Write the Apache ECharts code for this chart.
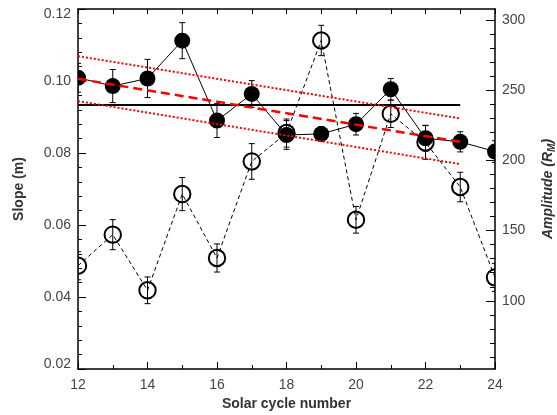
<!DOCTYPE html>
<html>
<head>
<meta charset="utf-8">
<script src="https://cdn.jsdelivr.net/npm/echarts@6/dist/echarts.min.js"></script>
<style>
  html, body { margin: 0; padding: 0; background: #fff; }
  #chart { width: 557px; height: 415px; }
</style>
</head>
<body>
<div id="chart"></div>
<script>
// solar cycles 12..24
var cycles = [12, 13, 14, 15, 16, 17, 18, 19, 20, 21, 22, 23, 24];
// slope m (filled circles, left axis)
var slope = [0.1009, 0.0986, 0.1007, 0.1112, 0.0890, 0.0964, 0.0850, 0.0853, 0.0880, 0.0977, 0.0841, 0.0831, 0.0804];
var slopeErr = [0.0040, 0.0046, 0.0053, 0.0050, 0.0047, 0.0037, 0.0040, 0.0020, 0.0030, 0.0030, 0.0036, 0.0028, 0.0030];
// amplitude (open circles, right axis)
var amplitude = [125.0, 147.1, 107.5, 176.0, 130.5, 199.2, 219.4, 285.3, 157.7, 233.1, 212.7, 181.0, 116.7];
var ampErr = [10.0, 10.7, 9.5, 11.8, 10.0, 12.7, 10.0, 10.8, 9.5, 9.7, 12.0, 10.5, 10.0];
// fit lines over cycles 12..23
var fitX = [12, 23];
var meanSlope = [0.0933, 0.0933];
var trendSlope = [0.1006, 0.0831];
var upperBand = [0.1069, 0.0896];
var lowerBand = [0.0944, 0.0769];
// tick labels
var ampTicks = [100, 150, 200, 250, 300];
var ampMinor = [60, 70, 80, 90, 110, 120, 130, 140, 160, 170, 180, 190, 210, 220, 230, 240, 260, 270, 280, 290];

var FONT = '"Liberation Sans", Arial, Helvetica, sans-serif';

function zip(xs, ys, es) {
  return xs.map(function (x, i) { return es ? [x, ys[i], es[i]] : [x, ys[i]]; });
}

// circle marker + error bar
function markerItem(filled) {
  return function (params, api) {
    var x = api.value(0), y = api.value(1), e = api.value(2);
    var c = api.coord([x, y]);
    var t = api.coord([x, y + e]);
    var b = api.coord([x, y - e]);
    var cap = 3;
    var bar = { stroke: '#000', lineWidth: 1 };
    var circle = filled
      ? { type: 'circle', shape: { cx: c[0], cy: c[1], r: 8 }, style: { fill: '#000' } }
      : { type: 'circle', shape: { cx: c[0], cy: c[1], r: 8.2 }, style: { fill: 'none', stroke: '#000', lineWidth: 2 } };
    return {
      type: 'group',
      children: [
        circle,
        { type: 'line', shape: { x1: t[0], y1: t[1], x2: b[0], y2: b[1] }, style: bar },
        { type: 'line', shape: { x1: t[0] - cap, y1: t[1], x2: t[0] + cap, y2: t[1] }, style: bar },
        { type: 'line', shape: { x1: b[0] - cap, y1: b[1], x2: b[0] + cap, y2: b[1] }, style: bar }
      ]
    };
  };
}

var axisLine = { show: true, lineStyle: { color: '#000', width: 1.5 } };
var labelStyle = { fontSize: 14, color: '#444', fontFamily: FONT };
var nameStyle = { fontSize: 14, fontWeight: 'bold', color: '#333', fontFamily: FONT };

// end labels of the slope axis are pulled inside the frame
function slopeLabel(v) {
  var s = v.toFixed(2);
  if (Math.abs(v - 0.02) < 1e-9) return '{lo|' + s + '}';
  if (Math.abs(v - 0.12) < 1e-9) return '{hi|' + s + '}';
  return s;
}

var option = {
  backgroundColor: '#fff',
  animation: false,
  grid: { left: 78, right: 62, top: 9, bottom: 46, containLabel: false, outerBoundsMode: 'none' },
  xAxis: [
    {
      type: 'value', position: 'bottom', min: 12, max: 24, interval: 2,
      axisLine: axisLine,
      axisTick: { inside: true, length: 7, lineStyle: { color: '#000' } },
      minorTick: { show: true, splitNumber: 2, length: 4, lineStyle: { color: '#000' } },
      axisLabel: Object.assign({ margin: 9 }, labelStyle),
      splitLine: { show: false },
      name: 'Solar cycle number', nameLocation: 'middle', nameGap: 26,
      nameTextStyle: nameStyle
    },
    {
      type: 'value', position: 'top', min: 12, max: 24, interval: 1,
      axisLine: axisLine,
      axisTick: { inside: true, length: 5, lineStyle: { color: '#000' } },
      axisLabel: { show: false },
      splitLine: { show: false }
    }
  ],
  yAxis: [
    {
      type: 'value', position: 'left', min: 0.02, max: 0.12, interval: 0.02,
      axisLine: axisLine,
      axisTick: { inside: true, length: 8, lineStyle: { color: '#000' } },
      minorTick: { show: true, splitNumber: 5, length: 4, lineStyle: { color: '#000' } },
      axisLabel: Object.assign({
        margin: 7, formatter: slopeLabel,
        rich: {
          lo: { fontSize: 14, color: '#444', fontFamily: FONT, padding: [0, 0, 10, 0] },
          hi: { fontSize: 14, color: '#444', fontFamily: FONT, padding: [10, 0, 0, 0] }
        }
      }, labelStyle),
      splitLine: { show: false },
      name: 'Slope (m)', nameLocation: 'middle', nameGap: 52, nameRotate: 90,
      nameTextStyle: nameStyle
    },
    {
      type: 'value', position: 'right', min: 51.5, max: 307.7,
      axisLine: axisLine,
      axisTick: { inside: true, length: 9, customValues: ampTicks, lineStyle: { color: '#000' } },
      axisLabel: Object.assign({ margin: 7, customValues: ampTicks }, labelStyle),
      splitLine: { show: false },
      name: '{i|Amplitude (R}{s|M}{i|)}', nameLocation: 'middle', nameGap: 44, nameRotate: 90,
      nameTextStyle: {
        rich: {
          i: { fontSize: 14, fontWeight: 'bold', fontStyle: 'italic', color: '#333', fontFamily: FONT, lineHeight: 18 },
          s: { fontSize: 10, fontWeight: 'bold', fontStyle: 'italic', color: '#333', fontFamily: FONT, lineHeight: 18, verticalAlign: 'bottom' }
        }
      }
    },
    {
      type: 'value', position: 'right', min: 51.5, max: 307.7,
      axisLine: { show: false },
      axisTick: { inside: true, length: 5, customValues: ampMinor, lineStyle: { color: '#000' } },
      axisLabel: { show: false, customValues: ampMinor },
      splitLine: { show: false }
    }
  ],
  series: [
    {
      type: 'line', yAxisIndex: 1, data: zip(cycles, amplitude), symbol: 'none',
      lineStyle: { color: '#000', width: 1, type: [4, 3] }, z: 2
    },
    {
      type: 'custom', yAxisIndex: 1, data: zip(cycles, amplitude, ampErr),
      renderItem: markerItem(false), clip: true, z: 3
    },
    {
      type: 'line', yAxisIndex: 0, data: zip(cycles, slope), symbol: 'none',
      lineStyle: { color: '#000', width: 1 }, z: 4
    },
    {
      type: 'custom', yAxisIndex: 0, data: zip(cycles, slope, slopeErr),
      renderItem: markerItem(true), clip: true, z: 5
    },
    {
      type: 'line', data: zip(fitX, meanSlope), symbol: 'none',
      lineStyle: { color: '#000', width: 2 }, z: 6
    },
    {
      type: 'line', data: zip(fitX, upperBand), symbol: 'none',
      lineStyle: { color: '#ff0000', width: 2, type: [2, 2] }, z: 6
    },
    {
      type: 'line', data: zip(fitX, lowerBand), symbol: 'none',
      lineStyle: { color: '#ff0000', width: 2, type: [2, 2] }, z: 6
    },
    {
      type: 'line', data: zip(fitX, trendSlope), symbol: 'none',
      lineStyle: { color: '#ff0000', width: 2.5, type: [9, 5] }, z: 7
    }
  ]
};

var myChart = echarts.init(document.getElementById('chart'));
myChart.setOption(option);
</script>
</body>
</html>
